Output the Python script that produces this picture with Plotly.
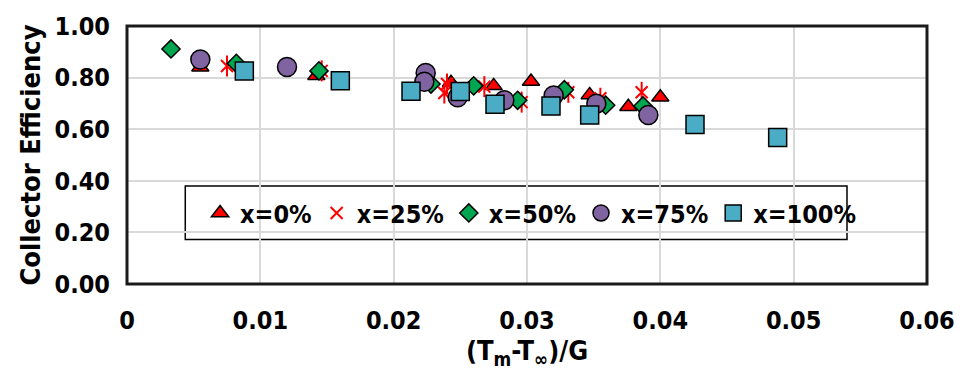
import plotly.graph_objects as go

# Collector efficiency vs. reduced temperature difference for each blend fraction
x_0 = [0.0055, 0.0142, 0.0243, 0.0275, 0.0303, 0.0347, 0.0376, 0.0400]
y_0 = [0.840, 0.807, 0.780, 0.768, 0.785, 0.733, 0.687, 0.724]

x_25 = [0.0075, 0.0146, 0.0240, 0.0238, 0.0268, 0.0296, 0.0331, 0.0355, 0.0386]
y_25 = [0.845, 0.826, 0.775, 0.740, 0.765, 0.705, 0.743, 0.720, 0.743]

x_50 = [0.0033, 0.0082, 0.0144, 0.0228, 0.0260, 0.0293, 0.0328, 0.0359, 0.0387]
y_50 = [0.911, 0.855, 0.826, 0.775, 0.768, 0.712, 0.753, 0.693, 0.690]

x_75 = [0.0055, 0.0120, 0.0224, 0.0223, 0.0248, 0.0283, 0.0320, 0.0352, 0.0391]
y_75 = [0.870, 0.841, 0.818, 0.784, 0.724, 0.712, 0.731, 0.699, 0.655]

x_100 = [0.0088, 0.0160, 0.0213, 0.0250, 0.0276, 0.0318, 0.0347, 0.0426, 0.0488]
y_100 = [0.826, 0.788, 0.747, 0.746, 0.697, 0.690, 0.655, 0.618, 0.568]

x_ticks = [0, 0.01, 0.02, 0.03, 0.04, 0.05, 0.06]
x_tick_text = ["0", "0.01", "0.02", "0.03", "0.04", "0.05", "0.06"]
y_ticks = [0.0, 0.2, 0.4, 0.6, 0.8, 1.0]
y_tick_text = ["0.00", "0.20", "0.40", "0.60", "0.80", "1.00"]

FONT = "DejaVu Sans Condensed, Roboto, Arial, sans-serif"
OUTLINE = dict(color="black", width=1.5)

fig = go.Figure()

fig.add_trace(go.Scatter(
    x=x_0, y=y_0, mode="markers", name="x=0%",
    marker=dict(symbol="triangle-up", size=15, color="#ff0000", line=OUTLINE),
))
# star marker: an X with a vertical stroke through it
fig.add_trace(go.Scatter(
    x=x_25, y=y_25, mode="markers", name="x=25%", legendgroup="x25",
    marker=dict(symbol="x-thin-open", size=12, color="#ff0000",
                line=dict(color="#ff0000", width=2)),
))
fig.add_trace(go.Scatter(
    x=x_25, y=y_25, mode="markers", name="x=25%", legendgroup="x25",
    showlegend=False,
    marker=dict(symbol="line-ns-open", size=15, color="#ff0000",
                line=dict(color="#ff0000", width=2)),
))
fig.add_trace(go.Scatter(
    x=x_50, y=y_50, mode="markers", name="x=50%",
    marker=dict(symbol="diamond", size=14, color="#00a550", line=OUTLINE),
))
fig.add_trace(go.Scatter(
    x=x_75, y=y_75, mode="markers", name="x=75%",
    marker=dict(symbol="circle", size=19, color="#8064a2", line=OUTLINE),
))
fig.add_trace(go.Scatter(
    x=x_100, y=y_100, mode="markers", name="x=100%",
    marker=dict(symbol="square", size=18, color="#4bacc6", line=OUTLINE),
))

# legend frame
fig.add_shape(type="rect", xref="paper", yref="paper",
              x0=(186 - 127) / 810, x1=(856 - 127) / 810,
              y0=(284 - 238) / 266, y1=(284 - 183) / 266,
              line=dict(color="black", width=1.5), fillcolor="white",
              layer="below")
# plot-area border
fig.add_shape(type="rect", xref="paper", yref="paper", x0=0, x1=1, y0=0, y1=1,
              line=dict(color="#1a1a1a", width=3))

tick_font = dict(family=FONT, size=25, color="black", weight="bold")
title_font = dict(family=FONT, size=27, color="black", weight="bold")

fig.update_layout(
    width=967, height=371,
    margin=dict(l=127, r=30, t=18, b=87),
    paper_bgcolor="white", plot_bgcolor="white",
    font=dict(family=FONT, color="black"),
    showlegend=True,
    legend=dict(
        orientation="h", x=(201 - 127) / 810, y=(284 - 211) / 266,
        xanchor="left", yanchor="middle",
        bgcolor="rgba(0,0,0,0)", borderwidth=0,
        font=dict(family=FONT, size=25, color="black", weight="bold"),
        itemwidth=30,
    ),
    xaxis=dict(
        range=[0, 0.06], tickvals=x_ticks, ticktext=x_tick_text,
        tickfont=tick_font,
        showgrid=True, gridcolor="#d9d9d9", gridwidth=2,
        zeroline=False, showline=False, ticks="", ticklabelstandoff=19,
        title=dict(text="(T<sub>m</sub>-T<sub>∞</sub>)/G",
                   font=title_font, standoff=0),
    ),
    yaxis=dict(
        range=[0, 1.0], tickvals=y_ticks, ticktext=y_tick_text,
        tickfont=tick_font,
        showgrid=True, gridcolor="#d9d9d9", gridwidth=2,
        zeroline=False, showline=False, ticks="", ticklabelstandoff=16,
        title=dict(text="Collector Efficiency", font=title_font, standoff=6),
    ),
)

fig.write_html("out.html")
